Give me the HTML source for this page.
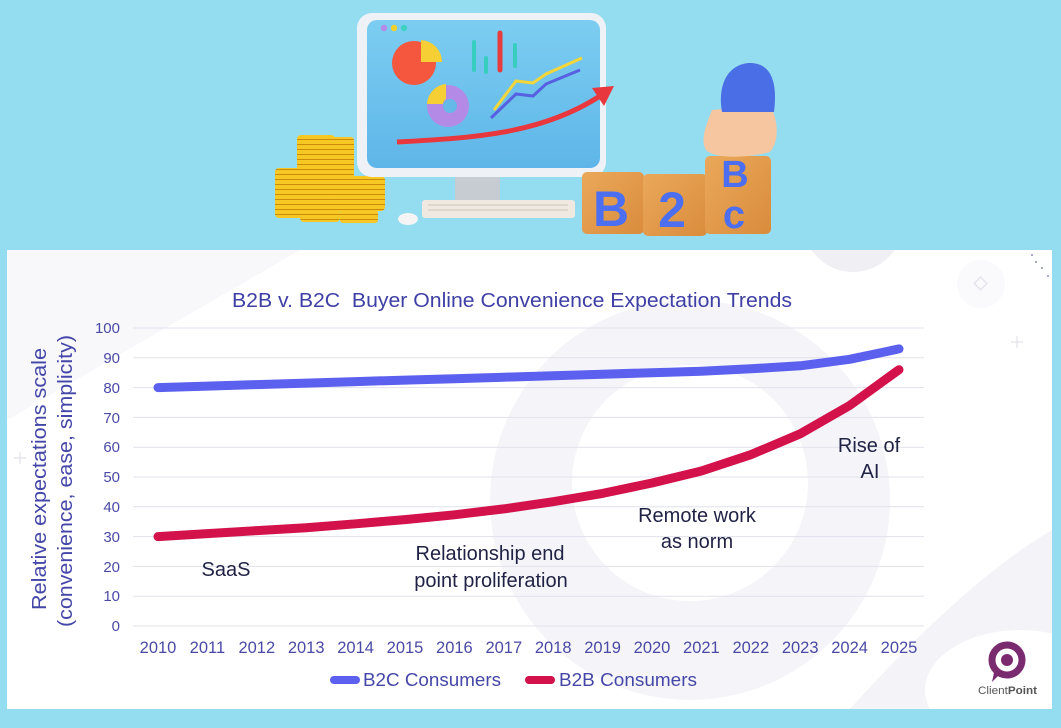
<!DOCTYPE html>
<html><head><meta charset="utf-8"><style>
html,body{margin:0;padding:0;background:#94dcef;}
svg{display:block;font-family:"Liberation Sans",sans-serif;}
</style></head><body>
<svg width="1061" height="728" viewBox="0 0 1061 728" xmlns="http://www.w3.org/2000/svg">
<defs>
<linearGradient id="scr" x1="0" y1="0" x2="0" y2="1"><stop offset="0" stop-color="#7ccdf1"/><stop offset="1" stop-color="#5eb6e8"/></linearGradient>
<pattern id="coin" width="10" height="5" patternUnits="userSpaceOnUse"><rect width="10" height="5" fill="#f7c824"/><rect y="4" width="10" height="1" fill="#c98b08"/></pattern>
<linearGradient id="wood" x1="0" y1="0" x2="1" y2="1"><stop offset="0" stop-color="#eba85a"/><stop offset="1" stop-color="#d98c3c"/></linearGradient>
<clipPath id="pc"><rect x="7" y="250" width="1045" height="459"/></clipPath>
</defs>
<rect width="1061" height="728" fill="#94dcef"/>

<!-- illustration -->
<rect x="297" y="135" width="38" height="68" rx="4" fill="url(#coin)"/>
<rect x="332" y="137" width="22" height="55" rx="3" fill="url(#coin)"/>
<rect x="275" y="168" width="36" height="50" rx="4" fill="url(#coin)"/>
<rect x="335" y="176" width="50" height="35" rx="4" fill="url(#coin)"/>
<rect x="300" y="200" width="40" height="22" rx="4" fill="url(#coin)"/>
<rect x="340" y="210" width="38" height="13" rx="3" fill="url(#coin)"/>
<rect x="455" y="172" width="45" height="30" fill="#c7cbd2"/>
<rect x="357" y="13" width="249" height="164" rx="15" fill="#eef2f6"/>
<rect x="367" y="20" width="233" height="148" rx="10" fill="url(#scr)"/>
<circle cx="384" cy="28" r="3.2" fill="#b48be8"/><circle cx="394" cy="28" r="3.2" fill="#f2d12c"/><circle cx="404" cy="28" r="3.2" fill="#3fd0c0"/>
<circle cx="414" cy="63" r="22" fill="#f4563e"/>
<path d="M421 40 A22 22 0 0 1 442 62 L421 62 Z" fill="#f6cf34"/>
<circle cx="448" cy="106" r="21" fill="#b38be6"/><circle cx="450" cy="106" r="7" fill="#64b9e8"/>
<path d="M427 104 A21 21 0 0 1 446 84 L446 99 A7 7 0 0 0 443 104 Z" fill="#f6cf34"/>
<g stroke-linecap="round"><line x1="474" y1="42" x2="474" y2="70" stroke="#37cdbf" stroke-width="4"/><line x1="486" y1="58" x2="486" y2="72" stroke="#37cdbf" stroke-width="4"/><line x1="500" y1="33" x2="500" y2="70" stroke="#e63c3e" stroke-width="5"/><line x1="515" y1="45" x2="515" y2="66" stroke="#37cdbf" stroke-width="4"/></g>
<polyline points="494,110 516,81 533,83 546,74 582,58" fill="none" stroke="#f4d63a" stroke-width="3"/>
<polyline points="491,118 516,94 533,96 546,84 580,70" fill="none" stroke="#5660e0" stroke-width="3"/>
<path d="M397 142 C470 138 540 135 600 96" fill="none" stroke="#e8383e" stroke-width="5"/>
<path d="M592 88 L614 86 L604 106 Z" fill="#e8383e"/>
<rect x="422" y="200" width="153" height="18" rx="3" fill="#efe9e2"/>
<g fill="#e0d7cc"><rect x="428" y="204" width="140" height="2"/><rect x="428" y="209" width="140" height="2"/></g>
<ellipse cx="408" cy="219" rx="10" ry="6" fill="#f5f5f5"/>
<rect x="582" y="172" width="62" height="62" rx="5" fill="url(#wood)"/>
<rect x="643" y="174" width="64" height="62" rx="5" fill="url(#wood)"/>
<rect x="705" y="156" width="66" height="78" rx="5" fill="url(#wood)"/>
<g fill="#4b6ff0" font-weight="bold" text-anchor="middle">
<text x="611" y="226" font-size="50">B</text>
<text x="672" y="227" font-size="50">2</text>
<text x="735" y="187" font-size="38">B</text>
<text x="734" y="228" font-size="40">c</text>
</g>
<path d="M712 110 C706 125 700 140 706 150 C712 157 740 160 770 152 C780 140 778 120 770 105 Z" fill="#f6c6a0"/>
<path d="M722 112 C718 90 724 66 748 63 C770 62 778 80 774 112 Z" fill="#4a6ee6"/>

<!-- panel -->
<rect x="7" y="250" width="1045" height="459" fill="#ffffff"/>
<g clip-path="url(#pc)">
<path d="M7 250 L300 250 L7 420 Z" fill="#f8f8fb"/>
<circle cx="853" cy="222" r="50" fill="#efeff4"/>
<path d="M690 300 A200 200 0 1 0 690 700 A200 200 0 1 0 690 300 Z M690 365 A118 118 0 1 1 690 601 A118 118 0 1 1 690 365 Z" fill="#f5f5f9" fill-rule="evenodd"/>
<path d="M850 709 C930 620 1000 560 1052 530 L1052 709 Z" fill="#f3f3f8"/>
<ellipse cx="1020" cy="690" rx="95" ry="60" fill="#ffffff"/>
<circle cx="981" cy="284" r="24" fill="#fafafc"/>
</g>
<rect x="976" y="279" width="9" height="9" fill="none" stroke="#e2e2ea" stroke-width="1.3" transform="rotate(45 980.5 283.5)"/>
<g stroke="#dcdce6" stroke-width="1"><line x1="1011" y1="342" x2="1023" y2="342"/><line x1="1017" y1="336" x2="1017" y2="348"/><line x1="14" y1="458" x2="26" y2="458"/><line x1="20" y1="452" x2="20" y2="464"/></g>
<g fill="#8890b0"><circle cx="1032" cy="255" r="1"/><circle cx="1036" cy="262" r="1"/><circle cx="1042" cy="268" r="1"/><circle cx="1048" cy="276" r="1"/></g>

<g stroke="#e1e1ec" stroke-width="1">
<line x1="133" y1="328" x2="924" y2="328"/><line x1="133" y1="357.8" x2="924" y2="357.8"/><line x1="133" y1="387.6" x2="924" y2="387.6"/><line x1="133" y1="417.4" x2="924" y2="417.4"/><line x1="133" y1="447.2" x2="924" y2="447.2"/><line x1="133" y1="477" x2="924" y2="477"/><line x1="133" y1="506.8" x2="924" y2="506.8"/><line x1="133" y1="536.6" x2="924" y2="536.6"/><line x1="133" y1="566.4" x2="924" y2="566.4"/><line x1="133" y1="596.2" x2="924" y2="596.2"/><line x1="133" y1="626" x2="924" y2="626"/>
</g>
<text x="512" y="307" font-size="20" fill="#3f40a6" text-anchor="middle" textLength="560" lengthAdjust="spacingAndGlyphs" xml:space="preserve">B2B v. B2C  Buyer Online Convenience Expectation Trends</text>
<g font-size="15" fill="#4a4aa6" text-anchor="end">
<text x="120" y="333">100</text><text x="120" y="363">90</text><text x="120" y="393">80</text><text x="120" y="423">70</text><text x="120" y="452">60</text><text x="120" y="482">50</text><text x="120" y="512">40</text><text x="120" y="542">30</text><text x="120" y="572">20</text><text x="120" y="601">10</text><text x="120" y="631">0</text>
</g>
<g font-size="20" fill="#4547a8" text-anchor="middle">
<text transform="translate(46,479) rotate(-90)" textLength="262" lengthAdjust="spacingAndGlyphs">Relative expectations scale</text>
<text transform="translate(72,481) rotate(-90)" textLength="292" lengthAdjust="spacingAndGlyphs">(convenience, ease, simplicity)</text>
</g>
<g font-size="16.5" fill="#4a4aa6" text-anchor="middle">
<text x="158" y="653">2010</text><text x="207.4" y="653">2011</text><text x="256.8" y="653">2012</text><text x="306.2" y="653">2013</text><text x="355.6" y="653">2014</text><text x="405" y="653">2015</text><text x="454.4" y="653">2016</text><text x="503.8" y="653">2017</text><text x="553.2" y="653">2018</text><text x="602.6" y="653">2019</text><text x="652" y="653">2020</text><text x="701.4" y="653">2021</text><text x="750.8" y="653">2022</text><text x="800.2" y="653">2023</text><text x="849.6" y="653">2024</text><text x="899" y="653">2025</text>
</g>
<polyline fill="none" stroke="#5b60ee" stroke-width="9" stroke-linecap="round" stroke-linejoin="round" points="158,387.6 207.4,386.1 256.8,384.6 306.2,383.1 355.6,381.6 405,380.1 454.4,378.7 503.8,377.2 553.2,375.7 602.6,374.2 652,372.7 701.4,371.2 750.8,368.8 800.2,365.8 849.6,359.3 899,348.9"/>
<polyline fill="none" stroke="#d3124b" stroke-width="9" stroke-linecap="round" stroke-linejoin="round" points="158,536.6 207.4,533.6 256.8,530.6 306.2,527.7 355.6,523.8 405,519.6 454.4,514.8 503.8,508.9 553.2,501.7 602.6,493.4 652,483 701.4,471 750.8,454.7 800.2,433.8 849.6,405.5 899,369.7"/>
<g font-size="20" fill="#1f2244" text-anchor="middle">
<text x="226" y="576">SaaS</text>
<text x="490" y="560">Relationship end</text>
<text x="491" y="587">point proliferation</text>
<text x="697" y="522">Remote work</text>
<text x="697" y="548">as norm</text>
<text x="869" y="452">Rise of</text>
<text x="870" y="478">AI</text>
</g>
<line x1="334" y1="680" x2="356" y2="680" stroke="#5b60ee" stroke-width="8" stroke-linecap="round"/>
<text x="363" y="686" font-size="18" fill="#4547a8" textLength="138" lengthAdjust="spacingAndGlyphs">B2C Consumers</text>
<line x1="529" y1="680" x2="551" y2="680" stroke="#d3124b" stroke-width="8" stroke-linecap="round"/>
<text x="559" y="686" font-size="18" fill="#4547a8" textLength="138" lengthAdjust="spacingAndGlyphs">B2B Consumers</text>
<circle cx="1007" cy="660" r="15" fill="none" stroke="#7a2a6e" stroke-width="7"/>
<circle cx="1007" cy="660" r="6" fill="#7a2a6e"/>
<path d="M995 668 L992 682 L1000 674 Z" fill="#7a2a6e"/>
<text x="978" y="694" font-size="11" fill="#555" textLength="59" lengthAdjust="spacingAndGlyphs">Client<tspan font-weight="bold">Point</tspan></text>
</svg>
</body></html>
